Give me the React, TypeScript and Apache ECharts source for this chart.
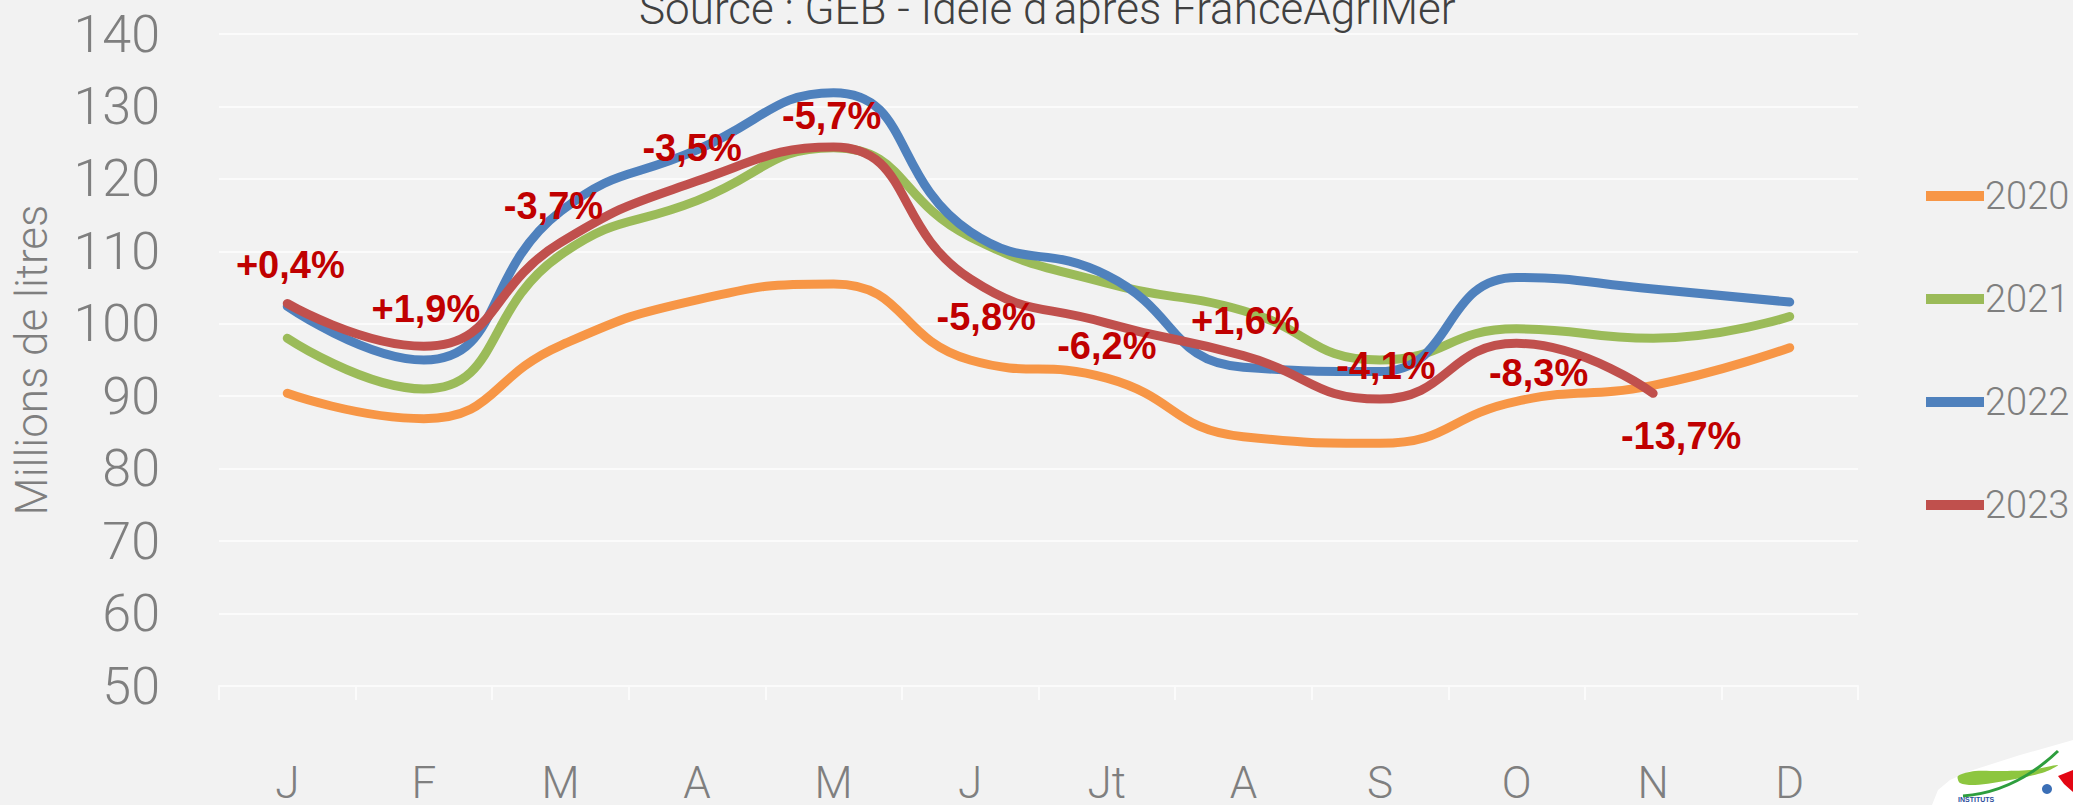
import React, { useEffect, useRef } from "react";
import * as echarts from "echarts";

const months = ["J", "F", "M", "A", "M", "J", "Jt", "A", "S", "O", "N", "D"];
const yTicks = [50, 60, 70, 80, 90, 100, 110, 120, 130, 140];
const years = ["2020", "2021", "2022", "2023"];

const s2020 = [90.4, 86.9, 97.0, 103.3, 105.5, 95.0, 92.5, 84.4, 83.5, 89.3, 91.5, 96.7];
const s2021 = [98.0, 91.0, 109.5, 117.0, 124.3, 112.0, 105.6, 101.8, 95.0, 99.3, 98.0, 101.0];
const s2022 = [102.4, 95.0, 115.5, 124.0, 131.9, 112.7, 106.7, 94.0, 93.4, 106.4, 104.8, 103.0];
const s2023 = [102.8, 96.9, 111.2, 119.7, 124.4, 106.2, 100.1, 95.6, 89.6, 97.3, 90.4];

const pctLabels = ["+0,4%", "+1,9%", "-3,7%", "-3,5%", "-5,7%", "-5,8%", "-6,2%", "+1,6%", "-4,1%", "-8,3%", "-13,7%"];

const titleText = "Source : GEB - Idele d'après FranceAgriMer";
const yName = "Millions de litres";

// layout of the percentage labels (offset from the 2023 point, px)
const labelOffsets: [number, number][] = [
  [3, -38], [2, -37], [-7, -37], [-5, -33], [-2, -31], [16, 38],
  [0, 23], [2, -35], [6, -33], [22, 30], [28, 43],
];

const colors = ["#F79646", "#9BBB59", "#4F81BD", "#C0504D"];
const GRAY = "#7f7f7f";
const FONT = "Roboto";

export default function App() {
  const ref = useRef<HTMLDivElement>(null);
  useEffect(() => {
    if (!ref.current) return;
    const chart = echarts.init(ref.current, undefined, { renderer: "svg" });
    const seriesData = [s2020, s2021, s2022, s2023];
    const series: any[] = seriesData.map((d, k) => ({
      name: years[k],
      type: "line",
      smooth: 0.5,
      color: colors[k],
      lineStyle: { color: colors[k], width: 9, cap: "round" },
      itemStyle: { color: colors[k] },
      symbol: k === 3 ? "circle" : "none",
      symbolSize: 2,
      showSymbol: k === 3,
      z: 2 + k,
      data:
        k === 3
          ? d.map((v, i) => ({
              value: v,
              label: {
                show: true,
                position: "inside",
                offset: labelOffsets[i],
                formatter: pctLabels[i],
                color: "#C00000",
                fontSize: 38,
                fontWeight: "bold",
                fontFamily: "Liberation Sans",
              },
            }))
          : d,
    }));

    chart.setOption({
      animation: false,
      backgroundColor: "#f2f2f2",
      grid: { left: 219, right: 215, top: 34, bottom: 118, containLabel: false },
      xAxis: {
        type: "category",
        data: months,
        boundaryGap: true,
        axisLine: { show: true, lineStyle: { color: "#fbfbfb", width: 2 } },
        axisTick: { show: true, length: 14, lineStyle: { color: "#fbfbfb", width: 2 } },
        axisLabel: {
          color: GRAY,
          fontSize: 44,
          lineHeight: 34,
          fontFamily: FONT,
          fontWeight: 300,
          margin: 80,
          interval: 0,
        },
        splitLine: { show: false },
      },
      yAxis: {
        type: "value",
        min: yTicks[0],
        max: yTicks[yTicks.length - 1],
        interval: 10,
        axisLine: { show: false },
        axisTick: { show: false },
        axisLabel: {
          color: GRAY,
          fontSize: 52,
          fontFamily: FONT,
          fontWeight: 300,
          margin: 59,
        },
        splitLine: { show: true, lineStyle: { color: "#fbfbfb", width: 2 } },
      },
      legend: {
        data: years,
        orient: "vertical",
        left: 1921,
        top: 171,
        icon: "rect",
        itemWidth: 58,
        itemHeight: 10,
        itemGap: 63,
        selectedMode: false,
        textStyle: {
          color: GRAY,
          fontSize: 38,
          fontFamily: FONT,
          fontWeight: 300,
          lineHeight: 40,
          padding: [0, 0, 0, -4],
        },
      },
      graphic: [
        {
          type: "text",
          left: 639,
          top: -13,
          style: {
            text: titleText,
            fill: "#404040",
            fontSize: 44,
            fontFamily: FONT,
            fontWeight: 300,
          },
        },
        {
          type: "text",
          x: 32,
          y: 360,
          rotation: Math.PI / 2,
          style: {
            text: yName,
            fill: GRAY,
            fontSize: 44,
            fontFamily: FONT,
            fontWeight: 300,
            align: "center",
            verticalAlign: "middle",
          },
        },
        {
          type: "polygon",
          shape: {
            points: [
              [1932, 805], [1938, 790], [1950, 780], [1970, 771], [1995, 763],
              [2020, 755], [2045, 748], [2073, 740], [2073, 805],
            ],
          },
          style: { fill: "#ffffff" },
        },
        {
          type: "polygon",
          shape: {
            points: [
              [1958, 776], [1975, 771], [2000, 771], [2030, 770], [2058, 765],
              [2045, 772], [2010, 780], [1975, 785], [1960, 783],
            ],
            smooth: 0.3,
          },
          style: { fill: "#8dc63f" },
        },
        {
          type: "bezierCurve",
          shape: { x1: 1963, y1: 796, x2: 2058, y2: 751, cpx1: 2015, cpy1: 792 },
          style: { stroke: "#2e9e3e", lineWidth: 3, fill: "none" },
        },
        {
          type: "polygon",
          shape: { points: [[2058, 776], [2073, 770], [2073, 792], [2064, 784]] },
          style: { fill: "#e30613" },
        },
        {
          type: "circle",
          shape: { cx: 2047, cy: 789, r: 5 },
          style: { fill: "#3b6fb6" },
        },
        {
          type: "text",
          x: 1958,
          y: 796,
          style: {
            text: "INSTITUTS",
            fill: "#2b4c9b",
            fontSize: 7,
            fontWeight: "bold",
            fontFamily: "Liberation Sans",
          },
        },
      ],
      series,
    });
    return () => chart.dispose();
  }, []);
  return (
    <div
      ref={ref}
      style={{ position: "fixed", left: 0, top: 0, width: 2073, height: 805, background: "#f2f2f2" }}
    />
  );
}
